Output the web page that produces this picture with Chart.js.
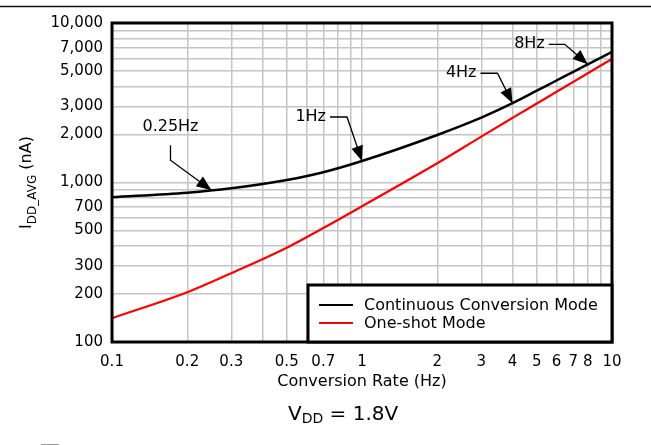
<!DOCTYPE html>
<html>
<head>
<meta charset="utf-8">
<script src="https://cdn.jsdelivr.net/npm/chart.js@4.4.1/dist/chart.umd.min.js"></script>
<style>
  html, body { margin: 0; padding: 0; background: #fff; }
  #wrap { width: 651px; height: 445px; }
</style>
</head>
<body>
<div id="wrap"><canvas id="chart"></canvas></div>
<script>
// conversion rate (Hz) vs average supply current (nA)
const rates = [0.1, 0.2, 0.3, 0.5, 0.7, 1, 2, 3, 4, 5, 6, 7, 8, 10];
const continuousNA = [808, 863, 920, 1037, 1160, 1364, 1986, 2550, 3140, 3762, 4361, 4940, 5506, 6600];
const oneShotNA = [141, 205, 270, 390, 518, 710, 1320, 1940, 2540, 3126, 3704, 4274, 4839, 5954];

const xTickLabels = [0.1, 0.2, 0.3, 0.5, 0.7, 1, 2, 3, 4, 5, 6, 7, 8, 10];
const yTickLabels = [100, 200, 300, 500, 700, 1000, 2000, 3000, 5000, 7000, 10000];

// callouts on the continuous curve
const calloutText = ['0.25Hz', '1Hz', '4Hz', '8Hz'];
const calloutRate = [0.25, 1, 4, 8];
const calloutNA = [895, 1364, 3140, 5506];

function decadeSteps(lo, hi) {
  const out = [];
  for (let d = lo; d < hi; d *= 10) {
    for (let k = 1; k < 10; k++) out.push(Number((k * d).toPrecision(3)));
  }
  out.push(hi);
  return out;
}
const xGrid = decadeSteps(0.1, 10);
const yGrid = decadeSteps(100, 10000);

function hasLabel(list, v) {
  return list.some(t => Math.abs(t - v) < t * 1e-6);
}

const FONT = 'DejaVu Sans';
Chart.defaults.font.family = FONT;
Chart.defaults.color = '#000';

// where the callout text / knee sits, relative to the arrow tip (px)
const calloutLayout = [
  { knee: [-41, -30], start: [-41, -45], text: [-41, -63], align: 'center' },
  { knee: [-15, -44], start: [-32, -44], text: [-36, -44], align: 'right' },
  { knee: [-15, -30], start: [-32, -30], text: [-36, -30], align: 'right' },
  { knee: [-23, -20], start: [-39, -20], text: [-43, -20], align: 'right' }
];

const decorations = {
  id: 'decorations',
  beforeDraw(chart) {
    const ctx = chart.ctx;
    ctx.save();
    ctx.fillStyle = '#fff';
    ctx.fillRect(0, 0, chart.width, chart.height);
    ctx.restore();
  },
  afterDatasetsDraw(chart) {
    const ctx = chart.ctx;
    const { left, top, right, bottom } = chart.chartArea;
    const xs = chart.scales.x, ys = chart.scales.y;
    ctx.save();

    // callouts
    ctx.strokeStyle = '#000';
    ctx.fillStyle = '#000';
    ctx.lineWidth = 1.3;
    ctx.font = '16px "' + FONT + '"';
    ctx.textBaseline = 'middle';
    calloutText.forEach((txt, i) => {
      const tx = xs.getPixelForValue(calloutRate[i]);
      const ty = ys.getPixelForValue(calloutNA[i]);
      const L = calloutLayout[i];
      const kx = tx + L.knee[0], ky = ty + L.knee[1];
      ctx.beginPath();
      ctx.moveTo(tx + L.start[0], ty + L.start[1]);
      ctx.lineTo(kx, ky);
      ctx.lineTo(tx, ty);
      ctx.stroke();
      // arrow head
      const ang = Math.atan2(ty - ky, tx - kx);
      const len = 15, half = 6;
      const bx = tx - Math.cos(ang) * len, by = ty - Math.sin(ang) * len;
      ctx.beginPath();
      ctx.moveTo(tx, ty);
      ctx.lineTo(bx + Math.sin(ang) * half, by - Math.cos(ang) * half);
      ctx.lineTo(bx - Math.sin(ang) * half, by + Math.cos(ang) * half);
      ctx.closePath();
      ctx.fill();
      ctx.textAlign = L.align;
      ctx.fillText(txt, tx + L.text[0], ty + L.text[1]);
    });

    // plot frame
    ctx.lineWidth = 3;
    ctx.strokeStyle = '#000';
    ctx.strokeRect(left, top, right - left, bottom - top);
    ctx.restore();
  },
  afterDraw(chart) {
    const ctx = chart.ctx;
    const { top, right, bottom } = chart.chartArea;
    ctx.save();

    // legend box
    const lx = 308, ly = 285;
    ctx.fillStyle = '#fff';
    ctx.fillRect(lx, ly, right - lx, bottom - ly);
    ctx.lineWidth = 3;
    ctx.strokeStyle = '#000';
    ctx.strokeRect(lx, ly, right - lx, bottom - ly);
    ctx.font = '16px "' + FONT + '"';
    ctx.textBaseline = 'middle';
    ctx.textAlign = 'left';
    chart.data.datasets.forEach((ds, i) => {
      const y = ly + 20 + i * 18;
      ctx.strokeStyle = ds.borderColor;
      ctx.lineWidth = 2;
      ctx.beginPath();
      ctx.moveTo(lx + 11, y);
      ctx.lineTo(lx + 45, y);
      ctx.stroke();
      ctx.fillStyle = '#000';
      ctx.fillText(ds.label, lx + 56, y + 1);
    });

    // y axis title with subscript, rotated
    ctx.fillStyle = '#000';
    ctx.translate(31, (top + bottom) / 2);
    ctx.rotate(-Math.PI / 2);
    ctx.textBaseline = 'alphabetic';
    const parts = [
      { t: 'I', f: 16, dy: 0 },
      { t: 'DD_AVG', f: 12, dy: 5 },
      { t: ' (nA)', f: 16, dy: 0 }
    ];
    let total = 0;
    parts.forEach(p => { ctx.font = p.f + 'px "' + FONT + '"'; p.w = ctx.measureText(p.t).width; total += p.w; });
    let px = -total / 2;
    parts.forEach(p => {
      ctx.font = p.f + 'px "' + FONT + '"';
      ctx.fillText(p.t, px, p.dy);
      px += p.w;
    });
    ctx.setTransform(1, 0, 0, 1, 0, 0);

    // supply voltage note
    let vx = 288;
    const vy = 420;
    ctx.font = '20px "' + FONT + '"';
    ctx.fillText('V', vx, vy);
    vx += ctx.measureText('V').width;
    ctx.font = '14px "' + FONT + '"';
    ctx.fillText('DD', vx, vy + 3);
    vx += ctx.measureText('DD').width;
    ctx.font = '20px "' + FONT + '"';
    ctx.fillText(' = 1.8V', vx, vy);

    // top rule and small mark at bottom left
    ctx.strokeStyle = '#111';
    ctx.lineWidth = 1.5;
    ctx.beginPath();
    ctx.moveTo(0, 6.5);
    ctx.lineTo(chart.width, 6.5);
    ctx.stroke();
    ctx.strokeStyle = '#999';
    ctx.lineWidth = 1;
    ctx.beginPath();
    ctx.moveTo(41, 444.5);
    ctx.lineTo(59, 444.5);
    ctx.stroke();
    ctx.restore();
  }
};

new Chart(document.getElementById('chart'), {
  type: 'line',
  data: {
    datasets: [{
      label: 'Continuous Conversion Mode',
      data: rates.map((r, i) => ({ x: r, y: continuousNA[i] })),
      borderColor: '#000',
      borderWidth: 2.5,
      pointRadius: 0,
      cubicInterpolationMode: 'monotone'
    }, {
      label: 'One-shot Mode',
      data: rates.map((r, i) => ({ x: r, y: oneShotNA[i] })),
      borderColor: '#ff0000',
      borderWidth: 2.2,
      pointRadius: 0,
      cubicInterpolationMode: 'monotone'
    }]
  },
  options: {
    responsive: true,
    maintainAspectRatio: false,
    animation: false,
    layout: { padding: { left: 0, right: 39, top: 23, bottom: 54 } },
    plugins: {
      legend: { display: false },
      tooltip: { enabled: false }
    },
    scales: {
      x: {
        type: 'logarithmic',
        min: 0.1,
        max: 10,
        afterBuildTicks: s => { s.ticks = xGrid.map(v => ({ value: v })); },
        afterFit: s => { s.height = 49; },
        ticks: {
          autoSkip: false,
          maxRotation: 0,
          minRotation: 0,
          padding: 11,
          font: { size: 15 },
          callback: v => hasLabel(xTickLabels, v) ? String(v) : ''
        },
        grid: { color: '#c4c4c4', lineWidth: 1.5, drawTicks: false },
        border: { display: false },
        title: {
          display: true,
          text: 'Conversion Rate (Hz)',
          font: { size: 16 },
          padding: 0
        }
      },
      y: {
        type: 'logarithmic',
        min: 100,
        max: 10000,
        afterBuildTicks: s => { s.ticks = yGrid.map(v => ({ value: v })); },
        afterFit: s => { s.width = 112; },
        ticks: {
          autoSkip: false,
          padding: 9,
          font: { size: 15 },
          callback: v => hasLabel(yTickLabels, v) ? v.toLocaleString('en-US') : ''
        },
        grid: { color: '#c4c4c4', lineWidth: 1.5, drawTicks: false },
        border: { display: false }
      }
    }
  },
  plugins: [decorations]
});
</script>
</body>
</html>
